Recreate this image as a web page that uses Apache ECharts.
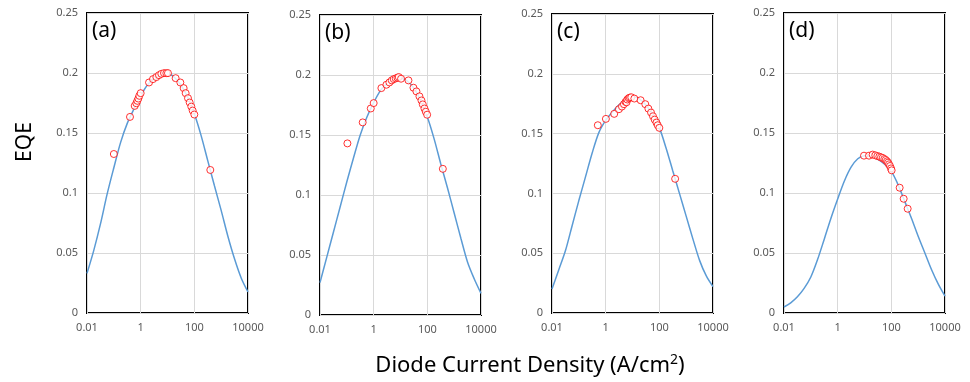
<!DOCTYPE html>
<html><head><meta charset="utf-8">
<script src="https://cdn.jsdelivr.net/npm/echarts@6/dist/echarts.min.js"></script>
<style>html,body{margin:0;padding:0;background:#fff}#c{width:970px;height:382px}</style>
</head><body><div id="c"></div>
<script>
// ---- data ----
const xTickValues = [0.01, 1, 100, 10000];
const xTickLabels = ['0.01', '1', '100', '10000'];
const yTickLabels = ['0', '0.05', '0.1', '0.15', '0.2', '0.25'];
const panelLabels = ['(a)', '(b)', '(c)', '(d)'];

const curveX = [0.01, 0.0178, 0.0316, 0.0562, 0.1, 0.178, 0.316, 0.562, 1, 1.78, 3.16, 5.62, 10,
                17.8, 31.6, 56.2, 100, 178, 316, 562, 1000, 1778, 3162, 5623, 10000];
const curveA = [0.033, 0.052, 0.074, 0.099, 0.121, 0.142, 0.158, 0.170, 0.181, 0.190, 0.1955, 0.199, 0.1995,
                0.1965, 0.190, 0.180, 0.166, 0.148, 0.127, 0.106, 0.0855, 0.064, 0.045, 0.029, 0.0175];
const curveB = [0.027, 0.048, 0.069, 0.090, 0.111, 0.131, 0.150, 0.165, 0.177, 0.187, 0.193, 0.197, 0.1975,
                0.195, 0.189, 0.179, 0.165, 0.147, 0.126, 0.106, 0.085, 0.064, 0.044, 0.030, 0.018];
const curveC = [0.020, 0.036, 0.052, 0.073, 0.094, 0.114, 0.134, 0.151, 0.161, 0.168, 0.174, 0.179, 0.181,
                0.179, 0.174, 0.166, 0.155, 0.138, 0.119, 0.100, 0.081, 0.062, 0.044, 0.031, 0.022];
const curveD = [0.005, 0.0085, 0.0135, 0.0205, 0.030, 0.0445, 0.0615, 0.079, 0.095, 0.110, 0.1215, 0.1285, 0.131,
                0.1305, 0.128, 0.124, 0.118, 0.107, 0.093, 0.079, 0.064, 0.050, 0.036, 0.024, 0.014];

const ptsAx = [0.1, 0.4, 0.6, 0.69, 0.75, 0.82, 0.89, 1.0, 2.05, 2.88, 3.84, 4.82, 5.89, 7.41, 9.06, 10.4, 20.1, 30.1, 40, 47.5, 58, 67, 77, 86.7, 100, 394];
const ptsAy = [0.1325, 0.1634, 0.1726, 0.1748, 0.1768, 0.1787, 0.181, 0.1832, 0.1921, 0.1949, 0.1966, 0.1982, 0.1993, 0.1999, 0.1999, 0.1999, 0.1957, 0.1921, 0.1874, 0.1832, 0.179, 0.1754, 0.172, 0.1687, 0.1654, 0.1192];

const ptsBx = [0.105, 0.39, 0.78, 1.0, 1.94, 2.99, 3.86, 4.72, 5.6, 6.66, 7.7, 8.6, 10.5, 19.8, 30.4, 39.3, 50.8, 60.4, 67.7, 78.2, 87.7, 98.4, 378];
const ptsBy = [0.143, 0.1605, 0.1721, 0.1766, 0.1891, 0.1919, 0.1938, 0.1955, 0.1966, 0.1972, 0.1977, 0.1983, 0.1969, 0.1955, 0.1894, 0.1863, 0.1822, 0.1788, 0.1755, 0.1721, 0.1694, 0.1669, 0.1218];

const ptsCx = [0.51, 1.02, 2.08, 3.12, 4.04, 4.8, 5.5, 6.0, 6.4, 7.2, 8.0, 9.0, 11.7, 20.1, 30, 39, 49, 58, 67, 78, 87, 100, 388];
const ptsCy = [0.157, 0.1623, 0.1665, 0.1704, 0.1726, 0.1746, 0.1765, 0.1762, 0.1785, 0.1796, 0.1801, 0.1804, 0.1793, 0.1779, 0.1746, 0.1709, 0.1676, 0.1645, 0.1617, 0.1592, 0.157, 0.1548, 0.1122];

const ptsDx = [9.57, 14.7, 20.1, 25.3, 30.1, 35.7, 41.2, 47.5, 54.8, 61.5, 69, 75.2, 81.9, 89.1, 97.2, 102.8, 204, 288, 406];
const ptsDy = [0.1311, 0.1311, 0.132, 0.1314, 0.1308, 0.1303, 0.1297, 0.1292, 0.1283, 0.1275, 0.1264, 0.1253, 0.1239, 0.1225, 0.1205, 0.1189, 0.1044, 0.0952, 0.0869];

const xTitle = 'Diode Current Density (A/cm';
const xTitleSup = '2';
const xTitleEnd = ')';
const yTitle = 'EQE';

// ---- layout ----
const grids = [
  {left: 87, top: 13, width: 161, height: 300},
  {left: 320, top: 15, width: 161, height: 300},
  {left: 552, top: 14, width: 161, height: 299},
  {left: 784, top: 13, width: 161, height: 300}
];
const curves = [curveA, curveB, curveC, curveD];
const ptsX = [ptsAx, ptsBx, ptsCx, ptsDx];
const ptsY = [ptsAy, ptsBy, ptsCy, ptsDy];
const zip = (a, b) => a.map((v, i) => [v, b[i]]);

const FONT = 'Noto Sans';
const option = {
  animation: false,
  backgroundColor: '#fff',
  grid: grids.map(g => Object.assign({show: true, borderColor: '#000', borderWidth: 2, backgroundColor: 'transparent'}, g)),
  xAxis: grids.map((g, i) => ({
    type: 'log', logBase: 100, gridIndex: i, min: 0.01, max: 10000,
    axisLine: {show: false}, axisTick: {show: false},
    splitLine: {show: true, lineStyle: {color: '#d9d9d9', width: 1}},
    minorSplitLine: {show: false},
    axisLabel: {
      color: '#595959', fontSize: 11, fontFamily: FONT, margin: 9,
      formatter: v => {
        const k = xTickValues.findIndex(t => Math.abs(Math.log10(t) - Math.log10(v)) < 1e-6);
        return k >= 0 ? xTickLabels[k] : '';
      }
    }
  })),
  yAxis: grids.map((g, i) => ({
    type: 'value', gridIndex: i, min: 0, max: 0.25, interval: 0.05,
    axisLine: {show: false}, axisTick: {show: false},
    splitLine: {show: true, lineStyle: {color: '#d9d9d9', width: 1}},
    axisLabel: {
      color: '#595959', fontSize: 11, fontFamily: FONT, margin: 9,
      formatter: v => yTickLabels[Math.round(v / 0.05)]
    }
  })),
  series: [],
  graphic: []
};
grids.forEach((g, i) => {
  option.series.push({
    type: 'line', xAxisIndex: i, yAxisIndex: i,
    data: zip(curveX, curves[i]), smooth: 0.3, showSymbol: false,
    lineStyle: {color: '#5b9bd5', width: 1.5}, z: 2
  });
  option.series.push({
    type: 'scatter', xAxisIndex: i, yAxisIndex: i,
    data: zip(ptsX[i], ptsY[i]), symbol: 'circle', symbolSize: 7,
    itemStyle: {color: '#fff', borderColor: '#ff0000', borderWidth: 1}, z: 3
  });
  option.graphic.push({
    type: 'text', left: g.left + 5, top: g.top + 8,
    style: {text: panelLabels[i], font: '21px "' + FONT + '"', fill: '#000'}, z: 10
  });
});
option.graphic.push({
  type: 'text', x: 25, y: 142, rotation: Math.PI / 2,
  style: {text: yTitle, font: '21px "' + FONT + '"', fill: '#000', align: 'center', verticalAlign: 'middle'}
});
option.graphic.push({
  type: 'text', x: 530, y: 366,
  style: {
    text: '{m|' + xTitle + '}{s|' + xTitleSup + '}{m|' + xTitleEnd + '}',
    align: 'center', verticalAlign: 'middle',
    rich: {
      m: {fontSize: 22, fontFamily: FONT, fill: '#000', verticalAlign: 'middle', lineHeight: 28},
      s: {fontSize: 14, fontFamily: FONT, fill: '#000', verticalAlign: 'middle', lineHeight: 14, padding: [0, 0, 11, 0]}
    }
  }
});
const chart = echarts.init(document.getElementById('c'), null, {renderer: 'canvas'});
chart.setOption(option);
</script></body></html>
